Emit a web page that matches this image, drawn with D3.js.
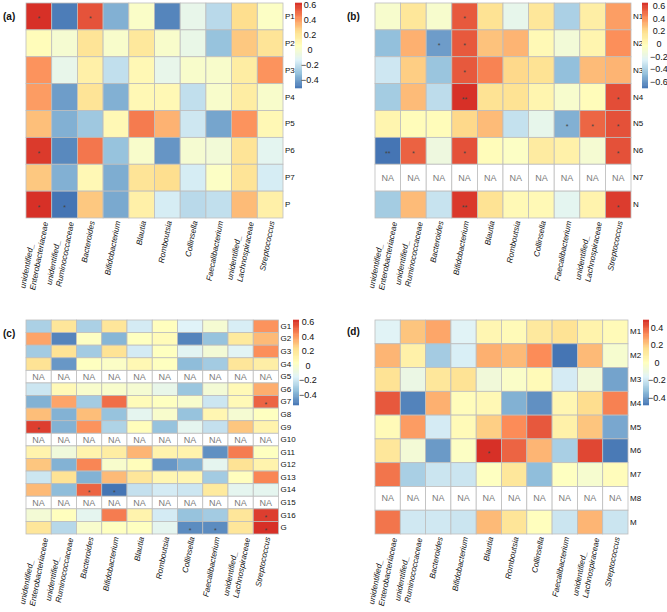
<!DOCTYPE html>
<html>
<head>
<meta charset="utf-8">
<script src="https://cdn.jsdelivr.net/npm/d3@7"></script>
<style>
  body { margin: 0; background: #fff; }
  svg { display: block; font-family: "Liberation Sans", Arial, sans-serif; }
</style>
</head>
<body>
<svg id="chart" width="667" height="612"></svg>
<script>
// ---------------- DATA ----------------
const genera = [
  "unidentified_\nEnterobacteriaceae", "unidentified_\nRuminococcaceae", "Bacteroides",
  "Bifidobacterium", "Blautia", "Romboutsia", "Collinsella", "Faecalibacterium",
  "unidentified_\nLachnospiraceae", "Streptococcus"
];

const rowsA = ["P1", "P2", "P3", "P4", "P5", "P6", "P7", "P"];
const valuesA = [
  [0.62, -0.48, 0.55, -0.35, 0.03, -0.46, -0.08, -0.22, 0.25, 0.04],
  [0.08, 0.00, 0.22, 0.02, 0.20, 0.02, -0.07, -0.30, 0.30, 0.22],
  [0.42, -0.08, 0.15, -0.20, 0.10, -0.08, 0.02, 0.02, 0.17, 0.42],
  [0.40, -0.40, 0.22, -0.35, 0.10, 0.10, -0.20, 0.02, 0.17, 0.02],
  [0.32, -0.35, -0.28, 0.10, 0.47, 0.35, -0.17, -0.38, 0.42, 0.10],
  [0.60, -0.45, 0.48, -0.30, 0.02, -0.42, 0.00, -0.02, 0.22, -0.10],
  [0.30, -0.35, 0.10, -0.36, 0.22, 0.25, -0.15, 0.04, 0.22, -0.15],
  [0.62, -0.50, 0.30, -0.37, 0.15, -0.15, -0.22, -0.20, 0.33, 0.15]
];
const sigA = [["P1", 0, "*"], ["P1", 2, "*"], ["P6", 0, "*"], ["P", 0, "*"], ["P", 1, "*"]];

const rowsB = ["N1", "N2", "N3", "N4", "N5", "N6", "N7", "N"];
const valuesB = [
  [-0.08, 0.15, -0.08, 0.55, 0.18, -0.20, 0.15, -0.40, 0.10, 0.38],
  [-0.47, 0.33, -0.58, 0.55, 0.28, 0.32, 0.02, -0.12, 0.05, 0.42],
  [-0.30, 0.25, -0.45, 0.55, 0.45, 0.22, 0.18, -0.47, 0.30, 0.32],
  [-0.42, 0.30, -0.35, 0.65, 0.18, 0.18, 0.05, -0.08, 0.00, 0.58],
  [0.05, 0.00, 0.00, 0.22, 0.30, -0.33, -0.20, -0.52, 0.52, 0.57],
  [-0.70, 0.53, -0.15, 0.57, 0.00, -0.05, 0.12, 0.08, -0.10, 0.57],
  [null, null, null, null, null, null, null, null, null, null],
  [-0.42, 0.30, -0.32, 0.63, 0.18, 0.02, 0.02, -0.22, 0.06, 0.62]
];
const sigB = [
  ["N1", 3, "*"], ["N2", 2, "*"], ["N2", 3, "*"], ["N3", 3, "*"], ["N4", 3, "**"], ["N4", 9, "*"],
  ["N5", 7, "*"], ["N5", 8, "*"], ["N5", 9, "*"], ["N6", 0, "**"], ["N6", 1, "*"], ["N6", 3, "*"],
  ["N6", 9, "*"], ["N", 3, "**"], ["N", 9, "*"]
];

const rowsC = ["G1", "G2", "G3", "G4", "G5", "G6", "G7", "G8", "G9", "G10", "G11", "G12", "G13", "G14", "G15", "G16", "G"];
const valuesC = [
  [-0.28, 0.20, -0.28, 0.20, -0.18, 0.05, -0.15, -0.02, -0.17, 0.42],
  [0.38, -0.50, 0.03, -0.37, 0.04, 0.07, -0.50, -0.33, 0.18, 0.33],
  [-0.30, 0.22, -0.30, 0.22, -0.18, 0.04, -0.13, -0.03, -0.14, 0.43],
  [0.22, -0.45, 0.04, 0.02, 0.09, 0.04, -0.35, -0.30, 0.20, 0.15],
  [null, null, null, null, null, null, null, null, null, null],
  [-0.20, 0.08, 0.00, 0.00, -0.02, -0.10, -0.32, -0.03, 0.08, 0.36],
  [-0.38, 0.38, -0.30, 0.50, 0.07, 0.04, 0.00, -0.20, 0.08, 0.52],
  [0.32, -0.38, 0.32, -0.33, -0.12, 0.00, -0.33, 0.10, -0.02, 0.04],
  [0.60, -0.38, 0.42, -0.27, 0.06, -0.33, -0.12, -0.22, 0.30, 0.12],
  [null, null, null, null, null, null, null, null, null, null],
  [0.12, -0.05, 0.12, 0.16, 0.34, 0.12, 0.12, -0.47, 0.47, 0.04],
  [0.30, -0.38, 0.45, 0.00, 0.06, -0.45, -0.38, -0.12, 0.22, 0.12],
  [-0.20, 0.22, -0.38, 0.33, 0.20, 0.10, 0.10, -0.30, 0.05, 0.45],
  [0.33, -0.35, 0.52, -0.54, -0.22, -0.18, -0.20, 0.18, -0.12, -0.12],
  [null, null, null, null, null, null, null, null, null, null],
  [-0.03, 0.05, -0.12, 0.47, 0.12, -0.18, -0.33, -0.30, 0.20, 0.60],
  [0.20, -0.25, 0.00, 0.04, 0.04, -0.12, -0.48, -0.48, 0.20, 0.63]
];
const sigC = [["G7", 9, "*"], ["G9", 0, "*"], ["G14", 2, "*"], ["G14", 3, "*"], ["G16", 9, "*"], ["G", 6, "*"], ["G", 7, "*"], ["G", 9, "*"]];

const rowsD = ["M1", "M2", "M3", "M4", "M5", "M6", "M7", "M8", "M"];
const valuesD = [
  [-0.15, 0.22, 0.28, -0.15, 0.05, 0.03, 0.12, 0.15, 0.07, 0.03],
  [0.25, 0.08, -0.28, -0.17, 0.26, 0.24, 0.33, -0.48, 0.24, -0.04],
  [0.15, -0.10, 0.13, 0.15, -0.07, -0.02, 0.03, -0.18, -0.07, -0.38],
  [0.42, -0.45, 0.26, 0.02, 0.04, -0.35, -0.42, 0.05, 0.17, 0.35],
  [0.03, 0.30, -0.18, 0.03, 0.20, 0.33, 0.42, 0.08, 0.22, -0.37],
  [0.13, -0.06, -0.40, -0.01, 0.49, 0.40, 0.25, -0.27, 0.45, -0.47],
  [0.37, -0.27, -0.20, -0.20, 0.00, 0.13, -0.32, 0.00, -0.04, 0.02],
  [null, null, null, null, null, null, null, null, null, null],
  [0.37, -0.19, -0.19, -0.20, 0.24, 0.14, 0.01, -0.20, 0.25, -0.20]
];
const sigD = [["M6", 4, "*"]];

const palette = ["#4575B4", "#91BFDB", "#E0F3F8", "#FFFFBF", "#FEE090", "#FC8D59", "#D73027"];

// ---------------- LAYOUT ----------------
const panels = [
  { tag: "(a)", rows: rowsA, values: valuesA, sig: sigA, x0: 26, x1: 283, y0: 3, y1: 218,
    legX: 295, legW: 7, legY0: 3, legY1: 88, legTx: 310, tagX: 3, tagY: 19.5 },
  { tag: "(b)", rows: rowsB, values: valuesB, sig: sigB, x0: 375, x1: 631, y0: 3, y1: 218,
    legX: 642, legW: 6, legY0: 3, legY1: 88, legTx: 659, tagX: 347, tagY: 19.5 },
  { tag: "(c)", rows: rowsC, values: valuesC, sig: sigC, x0: 26, x1: 278.5, y0: 320, y1: 534,
    legX: 293, legW: 6, legY0: 320, legY1: 405, legTx: 308, tagX: 3, tagY: 336.5 },
  { tag: "(d)", rows: rowsD, values: valuesD, sig: sigD, x0: 375, x1: 628, y0: 320, y1: 534,
    legX: 643, legW: 6, legY0: 320, legY1: 405, legTx: 657, tagX: 347, tagY: 335 }
];

const svg = d3.select("#chart");
const gridColor = "#bdbdbd";

panels.forEach(p => {
  const g = svg.append("g");
  const all = p.values.flat().filter(v => v !== null);
  const [mn, mx] = d3.extent(all);
  const color = d3.scaleLinear()
    .domain(d3.range(7).map(i => mn + i * (mx - mn) / 6))
    .range(palette)
    .interpolate(d3.interpolateRgb);

  const x = d3.scaleBand().domain(d3.range(genera.length)).range([p.x0, p.x1]);
  const y = d3.scaleBand().domain(p.rows).range([p.y0, p.y1]);

  const cells = [];
  p.values.forEach((row, ri) => row.forEach((v, ci) => cells.push({ r: p.rows[ri], c: ci, v })));

  g.selectAll("rect.cell").data(cells).join("rect")
    .attr("class", "cell")
    .attr("x", d => x(d.c)).attr("y", d => y(d.r))
    .attr("width", x.bandwidth()).attr("height", y.bandwidth())
    .attr("fill", d => d.v === null ? "#ffffff" : color(d.v))
    .attr("stroke", gridColor).attr("stroke-width", 0.8);

  g.selectAll("text.na").data(cells.filter(d => d.v === null)).join("text")
    .attr("class", "na")
    .attr("x", d => x(d.c) + x.bandwidth() / 2)
    .attr("y", d => y(d.r) + y.bandwidth() / 2)
    .attr("text-anchor", "middle").attr("dominant-baseline", "central")
    .attr("font-size", 9).attr("fill", "#7a7a7a").text("NA");

  g.selectAll("text.sig").data(p.sig).join("text")
    .attr("class", "sig")
    .attr("x", d => x(d[1]) + x.bandwidth() / 2)
    .attr("y", d => y(d[0]) + y.bandwidth() / 2 + 2.5)
    .attr("text-anchor", "middle").attr("dominant-baseline", "central")
    .attr("font-size", 7).attr("fill", "#444").text(d => d[2]);

  // row labels
  g.selectAll("text.row").data(p.rows).join("text")
    .attr("class", "row")
    .attr("x", p.x1 + 2)
    .attr("y", d => y(d) + y.bandwidth() / 2)
    .attr("dominant-baseline", "central")
    .attr("font-size", 8).attr("fill", "#111").text(d => d);

  // column labels (rotated)
  const colG = g.selectAll("g.col").data(genera).join("g")
    .attr("class", "col")
    .attr("transform", (d, i) => `translate(${x(i) + x.bandwidth() / 2 + 2},${p.y1 + 3}) rotate(-79)`);
  colG.each(function (d) {
    const lines = d.split("\n");
    const sel = d3.select(this);
    if (lines.length === 1) {
      sel.append("text").attr("text-anchor", "end").attr("dominant-baseline", "central")
        .attr("font-size", 8).attr("font-style", "italic").attr("fill", "#111").text(lines[0]);
    } else {
      const t2 = sel.append("text").attr("text-anchor", "end").attr("dominant-baseline", "central")
        .attr("y", 5).attr("font-size", 8).attr("font-style", "italic").attr("fill", "#111").text(lines[1]);
      const L2 = t2.node().getComputedTextLength();
      sel.append("text").attr("text-anchor", "start").attr("dominant-baseline", "central")
        .attr("x", -L2).attr("y", -5).attr("font-size", 8).attr("font-style", "italic")
        .attr("fill", "#111").text(lines[0]);
    }
  });

  // legend
  const ly = d3.scaleLinear().domain([mn, mx]).range([p.legY1, p.legY0]);
  const nSteps = 100;
  const stepVals = d3.range(nSteps).map(i => mn + (i + 0.5) * (mx - mn) / nSteps);
  const stepH = (p.legY1 - p.legY0) / nSteps;
  g.selectAll("rect.leg").data(stepVals).join("rect")
    .attr("class", "leg")
    .attr("x", p.legX).attr("width", p.legW)
    .attr("y", d => ly(d) - stepH / 2 - 0.3).attr("height", stepH + 0.6)
    .attr("fill", d => color(d));
  const ticks = d3.range(-1, 1.0001, 0.2).map(v => Math.round(v * 10) / 10).filter(v => v >= mn && v <= mx);
  g.selectAll("text.lt").data(ticks).join("text")
    .attr("class", "lt")
    .attr("x", p.legTx).attr("y", d => ly(d))
    .attr("text-anchor", "middle").attr("dominant-baseline", "central")
    .attr("font-size", 9).attr("fill", "#111")
    .text(d => d === 0 ? "0" : d3.format(".1f")(d));

  // panel tag
  g.append("text").attr("x", p.tagX).attr("y", p.tagY)
    .attr("font-size", 10).attr("font-weight", "bold").attr("fill", "#111").text(p.tag);
});
</script>
</body>
</html>
